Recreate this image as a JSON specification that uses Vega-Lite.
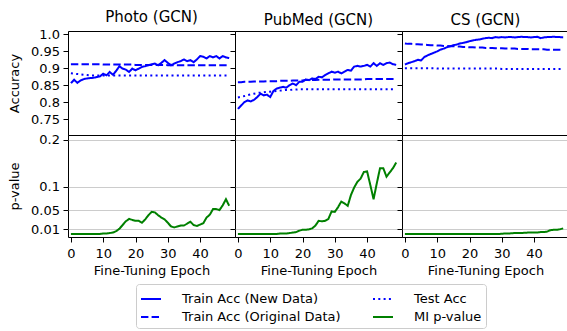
{
"$schema": "https://vega.github.io/schema/vega-lite/v6.json",
"padding": {"left": 8, "top": 9, "right": 5, "bottom": 0},
"data": {"values": [
{"ds":"Photo","e":0,"a":0.856,"c":0.912,"b":0.885,"d":0},
{"ds":"Photo","e":1,"a":0.866,"c":0.912,"b":0.884,"d":0},
{"ds":"Photo","e":2,"a":0.857,"c":0.912,"b":0.883,"d":0},
{"ds":"Photo","e":3,"a":0.864,"c":0.912,"b":0.882,"d":0},
{"ds":"Photo","e":4,"a":0.868,"c":0.912,"b":0.881,"d":0},
{"ds":"Photo","e":5,"a":0.870,"c":0.912,"b":0.880,"d":0},
{"ds":"Photo","e":6,"a":0.871,"c":0.912,"b":0.879,"d":0},
{"ds":"Photo","e":7,"a":0.872,"c":0.912,"b":0.879,"d":0},
{"ds":"Photo","e":8,"a":0.874,"c":0.912,"b":0.879,"d":0},
{"ds":"Photo","e":9,"a":0.876,"c":0.912,"b":0.879,"d":0},
{"ds":"Photo","e":10,"a":0.884,"c":0.911,"b":0.879,"d":0.001},
{"ds":"Photo","e":11,"a":0.879,"c":0.911,"b":0.879,"d":0.001},
{"ds":"Photo","e":12,"a":0.889,"c":0.911,"b":0.879,"d":0.002},
{"ds":"Photo","e":13,"a":0.881,"c":0.911,"b":0.879,"d":0.003},
{"ds":"Photo","e":14,"a":0.892,"c":0.911,"b":0.879,"d":0.006},
{"ds":"Photo","e":15,"a":0.906,"c":0.911,"b":0.879,"d":0.011},
{"ds":"Photo","e":16,"a":0.899,"c":0.911,"b":0.879,"d":0.019},
{"ds":"Photo","e":17,"a":0.896,"c":0.911,"b":0.879,"d":0.027},
{"ds":"Photo","e":18,"a":0.889,"c":0.911,"b":0.879,"d":0.032},
{"ds":"Photo","e":19,"a":0.899,"c":0.911,"b":0.879,"d":0.030},
{"ds":"Photo","e":20,"a":0.894,"c":0.910,"b":0.879,"d":0.028},
{"ds":"Photo","e":21,"a":0.899,"c":0.910,"b":0.879,"d":0.028},
{"ds":"Photo","e":22,"a":0.904,"c":0.910,"b":0.879,"d":0.024},
{"ds":"Photo","e":23,"a":0.906,"c":0.910,"b":0.879,"d":0.031},
{"ds":"Photo","e":24,"a":0.909,"c":0.910,"b":0.879,"d":0.040},
{"ds":"Photo","e":25,"a":0.912,"c":0.910,"b":0.879,"d":0.047},
{"ds":"Photo","e":26,"a":0.914,"c":0.910,"b":0.879,"d":0.046},
{"ds":"Photo","e":27,"a":0.909,"c":0.910,"b":0.879,"d":0.040},
{"ds":"Photo","e":28,"a":0.916,"c":0.910,"b":0.879,"d":0.035},
{"ds":"Photo","e":29,"a":0.924,"c":0.910,"b":0.879,"d":0.031},
{"ds":"Photo","e":30,"a":0.916,"c":0.909,"b":0.879,"d":0.024},
{"ds":"Photo","e":31,"a":0.909,"c":0.909,"b":0.879,"d":0.016},
{"ds":"Photo","e":32,"a":0.914,"c":0.909,"b":0.879,"d":0.014},
{"ds":"Photo","e":33,"a":0.918,"c":0.909,"b":0.879,"d":0.016},
{"ds":"Photo","e":34,"a":0.921,"c":0.909,"b":0.879,"d":0.018},
{"ds":"Photo","e":35,"a":0.926,"c":0.909,"b":0.879,"d":0.018},
{"ds":"Photo","e":36,"a":0.921,"c":0.909,"b":0.879,"d":0.022},
{"ds":"Photo","e":37,"a":0.924,"c":0.909,"b":0.879,"d":0.026},
{"ds":"Photo","e":38,"a":0.918,"c":0.909,"b":0.879,"d":0.019},
{"ds":"Photo","e":39,"a":0.926,"c":0.909,"b":0.879,"d":0.017},
{"ds":"Photo","e":40,"a":0.936,"c":0.909,"b":0.879,"d":0.020},
{"ds":"Photo","e":41,"a":0.934,"c":0.909,"b":0.879,"d":0.023},
{"ds":"Photo","e":42,"a":0.929,"c":0.909,"b":0.879,"d":0.035},
{"ds":"Photo","e":43,"a":0.936,"c":0.909,"b":0.879,"d":0.041},
{"ds":"Photo","e":44,"a":0.932,"c":0.909,"b":0.879,"d":0.053},
{"ds":"Photo","e":45,"a":0.936,"c":0.909,"b":0.879,"d":0.053},
{"ds":"Photo","e":46,"a":0.929,"c":0.909,"b":0.879,"d":0.051},
{"ds":"Photo","e":47,"a":0.936,"c":0.909,"b":0.879,"d":0.061},
{"ds":"Photo","e":48,"a":0.932,"c":0.909,"b":0.879,"d":0.074},
{"ds":"Photo","e":49,"a":0.930,"c":0.909,"b":0.879,"d":0.060},
{"ds":"PubMed","e":0,"a":0.780,"c":0.859,"b":0.814,"d":0},
{"ds":"PubMed","e":1,"a":0.790,"c":0.859,"b":0.816,"d":0},
{"ds":"PubMed","e":2,"a":0.800,"c":0.860,"b":0.818,"d":0},
{"ds":"PubMed","e":3,"a":0.805,"c":0.860,"b":0.821,"d":0},
{"ds":"PubMed","e":4,"a":0.802,"c":0.860,"b":0.823,"d":0},
{"ds":"PubMed","e":5,"a":0.807,"c":0.861,"b":0.825,"d":0},
{"ds":"PubMed","e":6,"a":0.815,"c":0.861,"b":0.827,"d":0},
{"ds":"PubMed","e":7,"a":0.825,"c":0.861,"b":0.828,"d":0},
{"ds":"PubMed","e":8,"a":0.820,"c":0.861,"b":0.829,"d":0},
{"ds":"PubMed","e":9,"a":0.822,"c":0.862,"b":0.830,"d":0},
{"ds":"PubMed","e":10,"a":0.815,"c":0.862,"b":0.831,"d":0},
{"ds":"PubMed","e":11,"a":0.833,"c":0.862,"b":0.832,"d":0},
{"ds":"PubMed","e":12,"a":0.840,"c":0.862,"b":0.833,"d":0},
{"ds":"PubMed","e":13,"a":0.843,"c":0.863,"b":0.834,"d":0.001},
{"ds":"PubMed","e":14,"a":0.845,"c":0.863,"b":0.835,"d":0.001},
{"ds":"PubMed","e":15,"a":0.843,"c":0.863,"b":0.836,"d":0.001},
{"ds":"PubMed","e":16,"a":0.850,"c":0.863,"b":0.836,"d":0.002},
{"ds":"PubMed","e":17,"a":0.855,"c":0.864,"b":0.837,"d":0.003},
{"ds":"PubMed","e":18,"a":0.850,"c":0.864,"b":0.837,"d":0.004},
{"ds":"PubMed","e":19,"a":0.860,"c":0.864,"b":0.838,"d":0.007},
{"ds":"PubMed","e":20,"a":0.860,"c":0.864,"b":0.838,"d":0.009},
{"ds":"PubMed","e":21,"a":0.867,"c":0.865,"b":0.838,"d":0.009},
{"ds":"PubMed","e":22,"a":0.865,"c":0.865,"b":0.838,"d":0.010},
{"ds":"PubMed","e":23,"a":0.870,"c":0.865,"b":0.838,"d":0.012},
{"ds":"PubMed","e":24,"a":0.868,"c":0.865,"b":0.838,"d":0.018},
{"ds":"PubMed","e":25,"a":0.875,"c":0.866,"b":0.838,"d":0.028},
{"ds":"PubMed","e":26,"a":0.873,"c":0.866,"b":0.838,"d":0.027},
{"ds":"PubMed","e":27,"a":0.880,"c":0.866,"b":0.838,"d":0.028},
{"ds":"PubMed","e":28,"a":0.885,"c":0.866,"b":0.838,"d":0.032},
{"ds":"PubMed","e":29,"a":0.890,"c":0.866,"b":0.838,"d":0.048},
{"ds":"PubMed","e":30,"a":0.887,"c":0.867,"b":0.838,"d":0.047},
{"ds":"PubMed","e":31,"a":0.890,"c":0.867,"b":0.838,"d":0.057},
{"ds":"PubMed","e":32,"a":0.885,"c":0.867,"b":0.838,"d":0.069},
{"ds":"PubMed","e":33,"a":0.890,"c":0.867,"b":0.838,"d":0.065},
{"ds":"PubMed","e":34,"a":0.895,"c":0.867,"b":0.838,"d":0.060},
{"ds":"PubMed","e":35,"a":0.893,"c":0.867,"b":0.838,"d":0.083},
{"ds":"PubMed","e":36,"a":0.905,"c":0.867,"b":0.838,"d":0.099},
{"ds":"PubMed","e":37,"a":0.907,"c":0.867,"b":0.838,"d":0.111},
{"ds":"PubMed","e":38,"a":0.905,"c":0.867,"b":0.838,"d":0.118},
{"ds":"PubMed","e":39,"a":0.907,"c":0.867,"b":0.838,"d":0.132},
{"ds":"PubMed","e":40,"a":0.910,"c":0.868,"b":0.838,"d":0.133},
{"ds":"PubMed","e":41,"a":0.905,"c":0.868,"b":0.838,"d":0.104},
{"ds":"PubMed","e":42,"a":0.915,"c":0.868,"b":0.838,"d":0.074},
{"ds":"PubMed","e":43,"a":0.907,"c":0.868,"b":0.838,"d":0.108},
{"ds":"PubMed","e":44,"a":0.915,"c":0.868,"b":0.838,"d":0.140},
{"ds":"PubMed","e":45,"a":0.910,"c":0.868,"b":0.838,"d":0.140},
{"ds":"PubMed","e":46,"a":0.915,"c":0.868,"b":0.838,"d":0.122},
{"ds":"PubMed","e":47,"a":0.917,"c":0.868,"b":0.838,"d":0.131},
{"ds":"PubMed","e":48,"a":0.912,"c":0.868,"b":0.838,"d":0.140},
{"ds":"PubMed","e":49,"a":0.910,"c":0.868,"b":0.838,"d":0.152},
{"ds":"CS","e":0,"a":0.911,"c":0.973,"b":0.900,"d":0},
{"ds":"CS","e":1,"a":0.915,"c":0.972,"b":0.900,"d":0},
{"ds":"CS","e":2,"a":0.918,"c":0.972,"b":0.900,"d":0},
{"ds":"CS","e":3,"a":0.921,"c":0.971,"b":0.900,"d":0},
{"ds":"CS","e":4,"a":0.925,"c":0.971,"b":0.900,"d":0},
{"ds":"CS","e":5,"a":0.923,"c":0.970,"b":0.900,"d":0},
{"ds":"CS","e":6,"a":0.933,"c":0.970,"b":0.900,"d":0},
{"ds":"CS","e":7,"a":0.938,"c":0.969,"b":0.900,"d":0},
{"ds":"CS","e":8,"a":0.942,"c":0.968,"b":0.900,"d":0},
{"ds":"CS","e":9,"a":0.946,"c":0.968,"b":0.900,"d":0},
{"ds":"CS","e":10,"a":0.950,"c":0.967,"b":0.899,"d":0},
{"ds":"CS","e":11,"a":0.955,"c":0.967,"b":0.899,"d":0},
{"ds":"CS","e":12,"a":0.958,"c":0.966,"b":0.899,"d":0},
{"ds":"CS","e":13,"a":0.962,"c":0.966,"b":0.899,"d":0},
{"ds":"CS","e":14,"a":0.965,"c":0.965,"b":0.899,"d":0},
{"ds":"CS","e":15,"a":0.968,"c":0.965,"b":0.899,"d":0},
{"ds":"CS","e":16,"a":0.970,"c":0.964,"b":0.899,"d":0},
{"ds":"CS","e":17,"a":0.973,"c":0.964,"b":0.899,"d":0},
{"ds":"CS","e":18,"a":0.975,"c":0.963,"b":0.899,"d":0},
{"ds":"CS","e":19,"a":0.977,"c":0.963,"b":0.899,"d":0},
{"ds":"CS","e":20,"a":0.980,"c":0.962,"b":0.899,"d":0},
{"ds":"CS","e":21,"a":0.982,"c":0.962,"b":0.899,"d":0},
{"ds":"CS","e":22,"a":0.984,"c":0.961,"b":0.899,"d":0},
{"ds":"CS","e":23,"a":0.985,"c":0.961,"b":0.899,"d":0},
{"ds":"CS","e":24,"a":0.987,"c":0.961,"b":0.899,"d":0},
{"ds":"CS","e":25,"a":0.989,"c":0.960,"b":0.899,"d":0},
{"ds":"CS","e":26,"a":0.990,"c":0.960,"b":0.899,"d":0},
{"ds":"CS","e":27,"a":0.989,"c":0.960,"b":0.899,"d":0},
{"ds":"CS","e":28,"a":0.992,"c":0.959,"b":0.899,"d":0},
{"ds":"CS","e":29,"a":0.991,"c":0.959,"b":0.899,"d":0},
{"ds":"CS","e":30,"a":0.992,"c":0.959,"b":0.898,"d":0.0005},
{"ds":"CS","e":31,"a":0.991,"c":0.958,"b":0.898,"d":0.001},
{"ds":"CS","e":32,"a":0.992,"c":0.958,"b":0.898,"d":0.001},
{"ds":"CS","e":33,"a":0.992,"c":0.958,"b":0.898,"d":0.0015},
{"ds":"CS","e":34,"a":0.991,"c":0.958,"b":0.898,"d":0.002},
{"ds":"CS","e":35,"a":0.992,"c":0.957,"b":0.898,"d":0.002},
{"ds":"CS","e":36,"a":0.993,"c":0.957,"b":0.898,"d":0.002},
{"ds":"CS","e":37,"a":0.992,"c":0.957,"b":0.898,"d":0.0025},
{"ds":"CS","e":38,"a":0.992,"c":0.957,"b":0.898,"d":0.003},
{"ds":"CS","e":39,"a":0.991,"c":0.956,"b":0.898,"d":0.003},
{"ds":"CS","e":40,"a":0.992,"c":0.956,"b":0.898,"d":0.003},
{"ds":"CS","e":41,"a":0.993,"c":0.956,"b":0.898,"d":0.003},
{"ds":"CS","e":42,"a":0.989,"c":0.956,"b":0.898,"d":0.004},
{"ds":"CS","e":43,"a":0.991,"c":0.956,"b":0.898,"d":0.004},
{"ds":"CS","e":44,"a":0.992,"c":0.955,"b":0.898,"d":0.005},
{"ds":"CS","e":45,"a":0.992,"c":0.955,"b":0.898,"d":0.008},
{"ds":"CS","e":46,"a":0.993,"c":0.955,"b":0.898,"d":0.009},
{"ds":"CS","e":47,"a":0.992,"c":0.955,"b":0.898,"d":0.009},
{"ds":"CS","e":48,"a":0.992,"c":0.955,"b":0.898,"d":0.010},
{"ds":"CS","e":49,"a":0.991,"c":0.955,"b":0.898,"d":0.012}
]},
"config": {
  "font": "DejaVu Sans",
  "view": {"stroke": "black", "strokeWidth": 1},
  "axis": {"labelFontSize": 13, "titleFontSize": 13, "labelColor": "black", "titleColor": "black", "tickColor": "black", "domain": false, "titleFontWeight": "normal", "labelPadding": 3.5, "tickSize": 5, "grid": false},
  "axisX": {"labelPadding": 5, "titlePadding": 4},
  "axisY": {"titlePadding": 9},
  "title": {"fontSize": 15, "fontWeight": "normal", "color": "black", "offset": 3, "baseline": "alphabetic"},
  "legend": {"orient": "none", "legendX": 68, "legendY": 253, "columns": 2, "symbolType": "stroke", "symbolSize": 400, "symbolStrokeWidth": 2, "labelFontSize": 13, "labelColor": "black", "strokeColor": "#cccccc", "fillColor": "white", "padding": 4, "cornerRadius": 3, "rowPadding": 0, "columnPadding": 28, "labelOffset": 20, "labelLimit": 300}
},
"spacing": 0,
"bounds": "flush",
"columns": 3,
"concat": [
 {"width": 167, "height": 104, "title": "Photo (GCN)",
  "transform": [{"filter": "datum.ds === 'Photo'"}, {"fold": ["a","b","c"], "as": ["s","v"]}],
  "mark": {"type": "line", "strokeWidth": 2, "clip": true},
  "encoding": {
   "x": {"field": "e", "type": "quantitative", "scale": {"domain": [-0.9, 50.8], "nice": false, "zero": false}, "axis": null},
   "y": {"field": "v", "type": "quantitative", "scale": {"domain": [0.703, 1.01], "nice": false, "zero": false}, "axis": {"values": [0.75,0.8,0.85,0.9,0.95,1.0], "labelExpr": "datum.value == 1 ? '1.0' : toString(datum.value)", "title": "Accuracy"}},
   "color": {"field": "s", "type": "nominal", "scale": {"domain": ["a","c","b","d"], "range": ["#0000ff","#0000ff","#0000ff","#008000"]}, "legend": {"title": null, "labelExpr": "datum.label == 'a' ? 'Train Acc (New Data)' : datum.label == 'c' ? 'Train Acc (Original Data)' : datum.label == 'b' ? 'Test Acc' : 'MI p-value'"}},
   "strokeDash": {"field": "s", "type": "nominal", "scale": {"domain": ["a","c","b","d"], "range": [[1,0],[7.4,3.2],[2,3.3],[1,0]]}, "legend": {"title": null, "labelExpr": "datum.label == 'a' ? 'Train Acc (New Data)' : datum.label == 'c' ? 'Train Acc (Original Data)' : datum.label == 'b' ? 'Test Acc' : 'MI p-value'"}}
  }},
 {"width": 167, "height": 104, "title": "PubMed (GCN)",
  "transform": [{"filter": "datum.ds === 'PubMed'"}, {"fold": ["a","b","c"], "as": ["s","v"]}],
  "mark": {"type": "line", "strokeWidth": 2, "clip": true},
  "encoding": {
   "x": {"field": "e", "type": "quantitative", "scale": {"domain": [-0.9, 50.8], "nice": false, "zero": false}, "axis": null},
   "y": {"field": "v", "type": "quantitative", "scale": {"domain": [0.703, 1.01], "nice": false, "zero": false}, "axis": {"values": [0.75,0.8,0.85,0.9,0.95,1.0], "labels": false, "title": null}},
   "color": {"field": "s", "type": "nominal", "scale": {"domain": ["a","c","b","d"], "range": ["#0000ff","#0000ff","#0000ff","#008000"]}, "legend": {"title": null, "labelExpr": "datum.label == 'a' ? 'Train Acc (New Data)' : datum.label == 'c' ? 'Train Acc (Original Data)' : datum.label == 'b' ? 'Test Acc' : 'MI p-value'"}},
   "strokeDash": {"field": "s", "type": "nominal", "scale": {"domain": ["a","c","b","d"], "range": [[1,0],[7.4,3.2],[2,3.3],[1,0]]}, "legend": {"title": null, "labelExpr": "datum.label == 'a' ? 'Train Acc (New Data)' : datum.label == 'c' ? 'Train Acc (Original Data)' : datum.label == 'b' ? 'Test Acc' : 'MI p-value'"}}
  }},
 {"width": 167, "height": 104, "title": "CS (GCN)",
  "transform": [{"filter": "datum.ds === 'CS'"}, {"fold": ["a","b","c"], "as": ["s","v"]}],
  "mark": {"type": "line", "strokeWidth": 2, "clip": true},
  "encoding": {
   "x": {"field": "e", "type": "quantitative", "scale": {"domain": [-0.9, 50.8], "nice": false, "zero": false}, "axis": null},
   "y": {"field": "v", "type": "quantitative", "scale": {"domain": [0.703, 1.01], "nice": false, "zero": false}, "axis": {"values": [0.75,0.8,0.85,0.9,0.95,1.0], "labels": false, "title": null}},
   "color": {"field": "s", "type": "nominal", "scale": {"domain": ["a","c","b","d"], "range": ["#0000ff","#0000ff","#0000ff","#008000"]}, "legend": {"title": null, "labelExpr": "datum.label == 'a' ? 'Train Acc (New Data)' : datum.label == 'c' ? 'Train Acc (Original Data)' : datum.label == 'b' ? 'Test Acc' : 'MI p-value'"}},
   "strokeDash": {"field": "s", "type": "nominal", "scale": {"domain": ["a","c","b","d"], "range": [[1,0],[7.4,3.2],[2,3.3],[1,0]]}, "legend": {"title": null, "labelExpr": "datum.label == 'a' ? 'Train Acc (New Data)' : datum.label == 'c' ? 'Train Acc (Original Data)' : datum.label == 'b' ? 'Test Acc' : 'MI p-value'"}}
  }},
 {"width": 167, "height": 102,
  "transform": [{"filter": "datum.ds === 'Photo'"}, {"fold": ["d"], "as": ["s","v"]}],
  "mark": {"type": "line", "strokeWidth": 2, "clip": true},
  "encoding": {
   "x": {"field": "e", "type": "quantitative", "scale": {"domain": [-0.9, 50.8], "nice": false, "zero": false}, "axis": {"values": [0,10,20,30,40], "labelFlush": false, "title": "Fine-Tuning Epoch"}},
   "y": {"field": "v", "type": "quantitative", "scale": {"domain": [-0.0064, 0.2106], "nice": false, "zero": false}, "axis": {"values": [0.01,0.05,0.1,0.2], "grid": true, "gridColor": "#cccccc", "labelExpr": "toString(datum.value)", "title": "p-value"}},
   "color": {"field": "s", "type": "nominal", "scale": {"domain": ["a","c","b","d"], "range": ["#0000ff","#0000ff","#0000ff","#008000"]}, "legend": {"title": null, "labelExpr": "datum.label == 'a' ? 'Train Acc (New Data)' : datum.label == 'c' ? 'Train Acc (Original Data)' : datum.label == 'b' ? 'Test Acc' : 'MI p-value'"}},
   "strokeDash": {"field": "s", "type": "nominal", "scale": {"domain": ["a","c","b","d"], "range": [[1,0],[7.4,3.2],[2,3.3],[1,0]]}, "legend": {"title": null, "labelExpr": "datum.label == 'a' ? 'Train Acc (New Data)' : datum.label == 'c' ? 'Train Acc (Original Data)' : datum.label == 'b' ? 'Test Acc' : 'MI p-value'"}}
  }},
 {"width": 167, "height": 102,
  "transform": [{"filter": "datum.ds === 'PubMed'"}, {"fold": ["d"], "as": ["s","v"]}],
  "mark": {"type": "line", "strokeWidth": 2, "clip": true},
  "encoding": {
   "x": {"field": "e", "type": "quantitative", "scale": {"domain": [-0.9, 50.8], "nice": false, "zero": false}, "axis": {"values": [0,10,20,30,40], "labelFlush": false, "title": "Fine-Tuning Epoch"}},
   "y": {"field": "v", "type": "quantitative", "scale": {"domain": [-0.0064, 0.2106], "nice": false, "zero": false}, "axis": {"values": [0.01,0.05,0.1,0.2], "grid": true, "gridColor": "#cccccc", "labels": false, "title": null}},
   "color": {"field": "s", "type": "nominal", "scale": {"domain": ["a","c","b","d"], "range": ["#0000ff","#0000ff","#0000ff","#008000"]}, "legend": {"title": null, "labelExpr": "datum.label == 'a' ? 'Train Acc (New Data)' : datum.label == 'c' ? 'Train Acc (Original Data)' : datum.label == 'b' ? 'Test Acc' : 'MI p-value'"}},
   "strokeDash": {"field": "s", "type": "nominal", "scale": {"domain": ["a","c","b","d"], "range": [[1,0],[7.4,3.2],[2,3.3],[1,0]]}, "legend": {"title": null, "labelExpr": "datum.label == 'a' ? 'Train Acc (New Data)' : datum.label == 'c' ? 'Train Acc (Original Data)' : datum.label == 'b' ? 'Test Acc' : 'MI p-value'"}}
  }},
 {"width": 167, "height": 102,
  "transform": [{"filter": "datum.ds === 'CS'"}, {"fold": ["d"], "as": ["s","v"]}],
  "mark": {"type": "line", "strokeWidth": 2, "clip": true},
  "encoding": {
   "x": {"field": "e", "type": "quantitative", "scale": {"domain": [-0.9, 50.8], "nice": false, "zero": false}, "axis": {"values": [0,10,20,30,40], "labelFlush": false, "title": "Fine-Tuning Epoch"}},
   "y": {"field": "v", "type": "quantitative", "scale": {"domain": [-0.0064, 0.2106], "nice": false, "zero": false}, "axis": {"values": [0.01,0.05,0.1,0.2], "grid": true, "gridColor": "#cccccc", "labels": false, "title": null}},
   "color": {"field": "s", "type": "nominal", "scale": {"domain": ["a","c","b","d"], "range": ["#0000ff","#0000ff","#0000ff","#008000"]}, "legend": {"title": null, "labelExpr": "datum.label == 'a' ? 'Train Acc (New Data)' : datum.label == 'c' ? 'Train Acc (Original Data)' : datum.label == 'b' ? 'Test Acc' : 'MI p-value'"}},
   "strokeDash": {"field": "s", "type": "nominal", "scale": {"domain": ["a","c","b","d"], "range": [[1,0],[7.4,3.2],[2,3.3],[1,0]]}, "legend": {"title": null, "labelExpr": "datum.label == 'a' ? 'Train Acc (New Data)' : datum.label == 'c' ? 'Train Acc (Original Data)' : datum.label == 'b' ? 'Test Acc' : 'MI p-value'"}}
  }}
]
}
